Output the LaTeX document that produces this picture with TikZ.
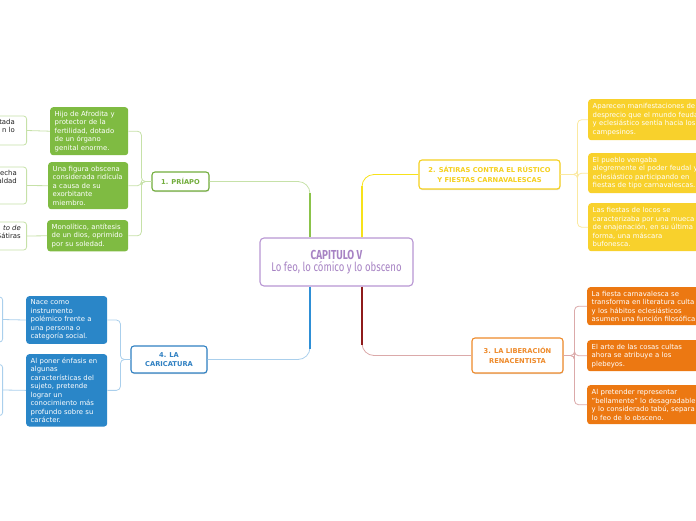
\documentclass[tikz,border=0pt]{standalone}
\usepackage{fontspec}
\setmainfont{DejaVu Sans}
\newfontfamily\capfont[FakeStretch=0.76]{Fira Sans}
\usetikzlibrary{calc,positioning,shadows}
\definecolor{CapPurple}{HTML}{A783C4}
\definecolor{CapLine}{HTML}{B896D3}
\definecolor{LeafGreen}{HTML}{7FBB42}
\definecolor{TopGreen}{HTML}{72AD3C}
\definecolor{TwigGreen}{HTML}{C6E1A8}
\definecolor{LeafYellow}{HTML}{F8D12C}
\definecolor{TopYellow}{HTML}{F5D01E}
\definecolor{TwigYellow}{HTML}{FBE9A0}
\definecolor{BranchYellow}{HTML}{F7E21A}
\definecolor{LeafOrange}{HTML}{EC7812}
\definecolor{TopOrange}{HTML}{EE8A2A}
\definecolor{TwigRed}{HTML}{DBA9A9}
\definecolor{BranchRed}{HTML}{8E1B1B}
\definecolor{LeafBlue}{HTML}{2A86C8}
\definecolor{TopBlue}{HTML}{2F80C2}
\definecolor{TwigBlue}{HTML}{AACFEC}
\definecolor{BranchBlue}{HTML}{2E8FD6}
\definecolor{BranchGreen}{HTML}{8BC34A}
\definecolor{EdgeInk}{HTML}{222222}
\tikzset{
  every node/.style={font=\fontsize{6.9}{8.5}\selectfont, inner sep=0pt},
  topic/.style={draw=CapLine, line width=1.1pt, fill=white, rounded corners=4pt,
    minimum width=153, minimum height=48, align=center, text=CapPurple},
  subtopic/.style={fill=white, line width=1.1pt, rounded corners=3pt, align=center,
    font=\fontsize{6.7}{9.5}\selectfont\bfseries,
    drop shadow={shadow xshift=0.4pt, shadow yshift=-1.2pt, opacity=0.25}},
  leaf/.style={rounded corners=3pt, anchor=north west, align=left, text=white,
    inner xsep=4.5pt, inner ysep=3.6pt},
  edgebox/.style={draw=#1, fill=white, line width=0.8pt, rounded corners=3pt,
    anchor=east, minimum width=80},
  edgetext/.style={anchor=north east, align=right, text=EdgeInk},
  branch/.style={line width=2.4pt},
  twig/.style={line width=0.8pt, rounded corners=4pt},
}

\begin{document}
\begin{tikzpicture}[x=1pt,y=-1pt]
  \useasboundingbox (0,0) rectangle (696,520);
  \clip (0,0) rectangle (696,520);

  % Central topic
  \node[topic] (cap) at (336.5,262)
    {{\capfont\fontsize{13}{15}\selectfont\bfseries CAPITULO V}\\[1pt]
     {\capfont\fontsize{12.6}{13}\selectfont Lo feo, lo cómico y lo obsceno}};

  % Main topics
  \node[subtopic, draw=TopGreen, text=TopGreen, minimum width=57, minimum height=19]
        (priapo) at (180.5,181.5) {1. PRÍAPO};
  \node[subtopic, draw=TopYellow, text=TopYellow, minimum width=141, minimum height=29]
        (satiras) at (489.5,174.5) {2. SÁTIRAS CONTRA EL RÚSTICO\\Y FIESTAS CARNAVALESCAS};
  \node[subtopic, draw=TopOrange, text=TopOrange, minimum width=91, minimum height=35]
        (liberacion) at (517.5,355.5) {3. LA LIBERACIÓN\\RENACENTISTA};
  \node[subtopic, draw=TopBlue, text=TopBlue, minimum width=76, minimum height=27]
        (caricatura) at (169,359.5) {4. LA\\CARICATURA};

  % Branches from the centre
  \draw[twig, draw=TwigGreen, rounded corners=12pt] ([xshift=-26.5]cap.north) |- (priapo.east);
  \draw[branch, draw=BranchGreen] ([xshift=-26.5]cap.north)
        -- ($([xshift=-26.5]cap.north |- priapo.east)+(0,11)$);
  \draw[twig, draw=BranchYellow, rounded corners=12pt] ([xshift=25.5]cap.north) |- (satiras.west);
  \draw[branch, draw=BranchYellow] ([xshift=25.5]cap.north)
        -- ($([xshift=25.5]cap.north |- satiras.west)+(0,11)$);
  \draw[twig, draw=TwigBlue, rounded corners=12pt] ([xshift=-26.5]cap.south) |- (caricatura.east);
  \draw[branch, draw=BranchBlue] ([xshift=-26.5]cap.south)
        -- ($([xshift=-26.5]cap.south |- caricatura.east)+(0,-11)$);
  \draw[twig, draw=TwigRed, rounded corners=12pt] ([xshift=25.5]cap.south) |- (liberacion.west);
  \draw[branch, draw=BranchRed] ([xshift=25.5]cap.south)
        -- ($([xshift=25.5]cap.south |- liberacion.west)+(0,-11)$);

  % 1. Priapo
  \node[leaf, fill=LeafGreen, text width=69, minimum height=48] (g1) at (50,107)
    {Hijo de Afrodita y\\protector de la\\fertilidad, dotado\\de un órgano\\genital enorme.};
  \node[leaf, fill=LeafGreen, text width=71, minimum height=47] (g2) at (48,162)
    {Una figura obscena\\considerada ridícula\\a causa de su\\exorbitante\\miembro.};
  \node[leaf, fill=LeafGreen, text width=72, minimum height=31] (g3) at (47,220)
    {Monolítico, antítesis\\de un dios, oprimido\\por su soledad.};
  \draw[twig, draw=TwigGreen] (priapo.west) -- ++(-10,0) |- (g1.east);
  \draw[twig, draw=TwigGreen] (priapo.west) -- ++(-10,0) |- (g2.east);
  \draw[twig, draw=TwigGreen] (priapo.west) -- ++(-10,0) |- (g3.east);

  \node[edgebox=TwigGreen, minimum height=29] (w1) at (27,130.5) {};
  \node[edgebox=TwigGreen, minimum height=37] (w2) at (27,185.5) {};
  \node[edgebox=TwigGreen, minimum height=28] (w3) at (27,236) {};
  \node[edgetext] (w1t) at ([xshift=-12,yshift=-3]w1.north east) {tada\\n lo};
  \node[edgetext] (w2t) at ([xshift=-10,yshift=-3]w2.north east) {echa\\ealdad};
  \node[edgetext] (w3t) at ([xshift=-6,yshift=-3]w3.north east) {\textit{to de}\\Sátiras};
  \draw[twig, draw=TwigGreen] (g1.west) -- (w1.east);
  \draw[twig, draw=TwigGreen] (g2.west) -- (w2.east);
  \draw[twig, draw=TwigGreen] (g3.west) -- (w3.east);

  % 2. Satiras
  \node[leaf, fill=LeafYellow, text width=125, minimum height=41] (y1) at (588,99)
    {Aparecen manifestaciones de\\desprecio que el mundo feudal\\y eclesiástico sentía hacia los\\campesinos.};
  \node[leaf, fill=LeafYellow, text width=125, minimum height=40] (y2) at (588,153)
    {El pueblo vengaba\\alegremente el poder feudal y\\eclesiástico participando en\\fiestas de tipo carnavalescas.};
  \node[leaf, fill=LeafYellow, text width=125, minimum height=48] (y3) at (588,203)
    {Las fiestas de locos se\\caracterizaba por una mueca\\de enajenación, en su última\\forma, una máscara\\bufonesca.};
  \draw[twig, draw=TwigYellow] (satiras.east) -- ++(17,0) |- (y1.west);
  \draw[twig, draw=TwigYellow] (satiras.east) -- ++(17,0) |- (y2.west);
  \draw[twig, draw=TwigYellow] (satiras.east) -- ++(17,0) |- (y3.west);

  % 3. Liberacion
  \node[leaf, fill=LeafOrange, text width=125, minimum height=38] (o1) at (587,287)
    {La fiesta carnavalesca se\\transforma en literatura culta\\y los hábitos eclesiásticos\\asumen una función filosófica.};
  \node[leaf, fill=LeafOrange, text width=125, minimum height=31] (o2) at (587,340)
    {El arte de las cosas cultas\\ahora se atribuye a los\\plebeyos.};
  \node[leaf, fill=LeafOrange, text width=125, minimum height=39] (o3) at (587,385)
    {Al pretender representar\\"bellamente" lo desagradable\\y lo considerado tabú, separa\\lo feo de lo obsceno.};
  \draw[twig, draw=TwigRed] (liberacion.east) -- ++(11,0) |- (o1.west);
  \draw[twig, draw=TwigRed] (liberacion.east) -- ++(11,0) |- (o2.west);
  \draw[twig, draw=TwigRed] (liberacion.east) -- ++(11,0) |- (o3.west);

  % 4. Caricatura
  \node[leaf, fill=LeafBlue, text width=72, minimum height=47] (b1) at (26,296)
    {Nace como\\instrumento\\polémico frente a\\una persona o\\categoría social.};
  \node[leaf, fill=LeafBlue, text width=72, minimum height=72] (b2) at (26,354)
    {Al poner énfasis en\\algunas\\características del\\sujeto, pretende\\lograr un\\conocimiento más\\profundo sobre su\\carácter.};
  \draw[twig, draw=TwigBlue] (caricatura.west) -- ++(-10,0) |- (b1.east);
  \draw[twig, draw=TwigBlue] (caricatura.west) -- ++(-10,0) |- (b2.east);

  \node[edgebox=TwigBlue, minimum height=45] (bl1) at (3,319.5) {};
  \node[edgebox=TwigBlue, minimum height=51] (bl2) at (3,390) {};
  \draw[twig, draw=TwigBlue] (b1.west) -- (bl1.east);
  \draw[twig, draw=TwigBlue] (b2.west) -- (bl2.east);
\end{tikzpicture}
\end{document}
